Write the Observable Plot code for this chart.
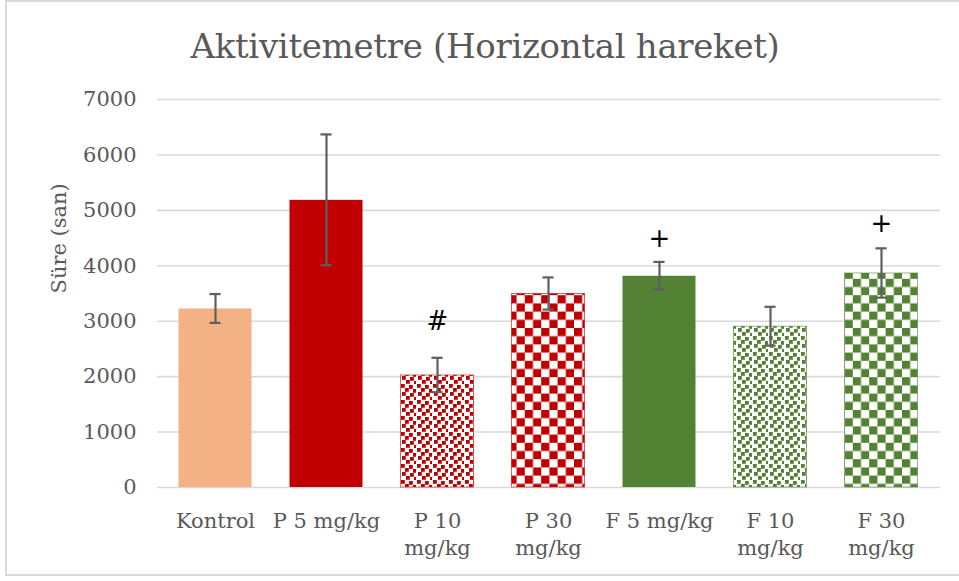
<!DOCTYPE html>
<html>
<head>
<meta charset="utf-8">
<script src="https://cdn.jsdelivr.net/npm/d3@7"></script>
<script src="https://cdn.jsdelivr.net/npm/@observablehq/plot@0.6"></script>
<style>
  html, body { margin: 0; padding: 0; background: #fff; }
  #wrap { position: relative; width: 959px; height: 581px; overflow: hidden; }
  #frame { position: absolute; left: 5px; top: 0px; width: 970px; height: 576px;
           border-left: 2px solid #d9d9d9; border-top: 2px solid #d9d9d9; border-bottom: 2px solid #d9d9d9; box-sizing: border-box; }
  #title { position: absolute; left: 0; top: 26px; width: 970px; text-align: center;
           font-family: "DejaVu Serif", serif; font-size: 34px; color: #595959; line-height: 1.2; letter-spacing: -0.3px; }
  #chart { position: absolute; left: 0; top: 0; }
</style>
</head>
<body>
<div id="wrap">
  <div id="frame"></div>
  <div id="chart"></div>
  <div id="title">Aktivitemetre (Horizontal hareket)</div>
</div>
<script>
// ---- data ----
const categories = ["Kontrol", "P 5 mg/kg", "P 10 mg/kg", "P 30 mg/kg", "F 5 mg/kg", "F 10 mg/kg", "F 30 mg/kg"];
const tickLabels = ["Kontrol", "P 5 mg/kg", "P 10\nmg/kg", "P 30\nmg/kg", "F 5 mg/kg", "F 10\nmg/kg", "F 30\nmg/kg"];
const means = [3230, 5190, 2030, 3500, 3820, 2910, 3870];
const errors = [260, 1180, 310, 290, 250, 350, 445];
const yTicks = [0, 1000, 2000, 3000, 4000, 5000, 6000, 7000];
const annotationCats = ["P 10 mg/kg", "F 5 mg/kg", "F 30 mg/kg"];
const annotationText = ["#", "+", "+"];
const annotationY = [3000, 4490, 4760];

// ---- styles ----
const fillFor = {
  "Kontrol": "#F4B183",
  "P 5 mg/kg": "#C00000",
  "P 10 mg/kg": "url(#confettiRed)",
  "P 30 mg/kg": "url(#checkRed)",
  "F 5 mg/kg": "#548235",
  "F 10 mg/kg": "url(#confettiGreen)",
  "F 30 mg/kg": "url(#checkGreen)"
};
const edgeFor = {
  "P 10 mg/kg": "#C00000", "P 30 mg/kg": "#C00000",
  "F 10 mg/kg": "#548235", "F 30 mg/kg": "#548235"
};

const rows = categories.map((c, i) => ({cat: c, mean: means[i], err: errors[i], fill: fillFor[c], edge: edgeFor[c] || "none"}));
const notes = annotationCats.map((c, i) => ({cat: c, text: annotationText[i], y: annotationY[i]}));
const labelOf = Object.fromEntries(categories.map((c, i) => [c, tickLabels[i]]));

const W = 959, H = 581;
const bandPadIn = 0.33, bandPadOut = 0.17;
const mL = 157, mR = 19;
const step = (W - mL - mR) / (categories.length - bandPadIn + 2 * bandPadOut);
const bw = step * (1 - bandPadIn);
const capW = 12;
const capInset = (bw - capW) / 2;
const fs = 21;

const plot = Plot.plot({
  width: W,
  height: H,
  marginLeft: mL,
  marginRight: mR,
  marginTop: 99,
  marginBottom: 94,
  style: {fontFamily: "DejaVu Serif, serif", fontSize: fs + "px", color: "#595959", background: "transparent", overflow: "visible"},
  x: {domain: categories, paddingInner: bandPadIn, paddingOuter: bandPadOut, label: null},
  y: {domain: [0, 7000], label: null},
  color: {type: "identity"},
  marks: [
    Plot.gridY(yTicks, {stroke: "#d9d9d9", strokeOpacity: 1, strokeWidth: 1.6}),
    Plot.axisY(yTicks, {tickSize: 0, tickPadding: 21, label: null, tickFormat: d => String(d), fill: "#595959", fontSize: fs}),
    Plot.axisX({tickSize: 0, tickPadding: 21, label: null, tickFormat: d => labelOf[d], lineHeight: 1.3, fill: "#595959", fontSize: fs}),
    Plot.barY(rows, {x: "cat", y: "mean", fill: "fill", stroke: "edge", strokeWidth: 1, strokeOpacity: 0.6, insetTop: 0.5, insetLeft: 0.5, insetRight: 0.5}),
    Plot.ruleX(rows, {x: "cat", y1: d => d.mean - d.err, y2: d => d.mean + d.err, stroke: "#5f5f5f", strokeWidth: 2.2}),
    Plot.tickY(rows, {x: "cat", y: d => d.mean - d.err, stroke: "#5f5f5f", strokeWidth: 2.2, insetLeft: capInset, insetRight: capInset}),
    Plot.tickY(rows, {x: "cat", y: d => d.mean + d.err, stroke: "#5f5f5f", strokeWidth: 2.2, insetLeft: capInset, insetRight: capInset}),
    Plot.text(notes, {x: "cat", y: "y", text: "text", fontFamily: "DejaVu Sans, sans-serif", fontSize: 26, fill: "#000"}),
    Plot.text(["Süre (san)"], {frameAnchor: "left", rotate: -90, dx: -98, fontSize: fs, fill: "#595959"})
  ]
});

// ---- pattern definitions ----
const svg = d3.select(plot);
const defs = svg.insert("defs", ":first-child");
function checker(id, color) {
  const p = defs.append("pattern").attr("id", id).attr("patternUnits", "userSpaceOnUse")
    .attr("width", 16.4).attr("height", 16.4);
  p.append("rect").attr("width", 16.4).attr("height", 16.4).attr("fill", "#fff");
  p.append("rect").attr("x", 0).attr("y", 0).attr("width", 8.2).attr("height", 8.2).attr("fill", color);
  p.append("rect").attr("x", 8.2).attr("y", 8.2).attr("width", 8.2).attr("height", 8.2).attr("fill", color);
}
function confetti(id, color) {
  const p = defs.append("pattern").attr("id", id).attr("patternUnits", "userSpaceOnUse")
    .attr("width", 16).attr("height", 16);
  p.append("rect").attr("width", 16).attr("height", 16).attr("fill", "#fff");
  const spots = [[1,0],[9,1],[5,4],[13,5],[2,8],[10,9],[6,12],[14,13]];
  for (const [x, y] of spots) {
    p.append("rect").attr("x", x).attr("y", y).attr("width", 3.8).attr("height", 3.8).attr("fill", color);
  }
}
checker("checkRed", "#C00000");
checker("checkGreen", "#548235");
confetti("confettiRed", "#C00000");
confetti("confettiGreen", "#548235");

document.getElementById("chart").appendChild(plot);
</script>
</body>
</html>
